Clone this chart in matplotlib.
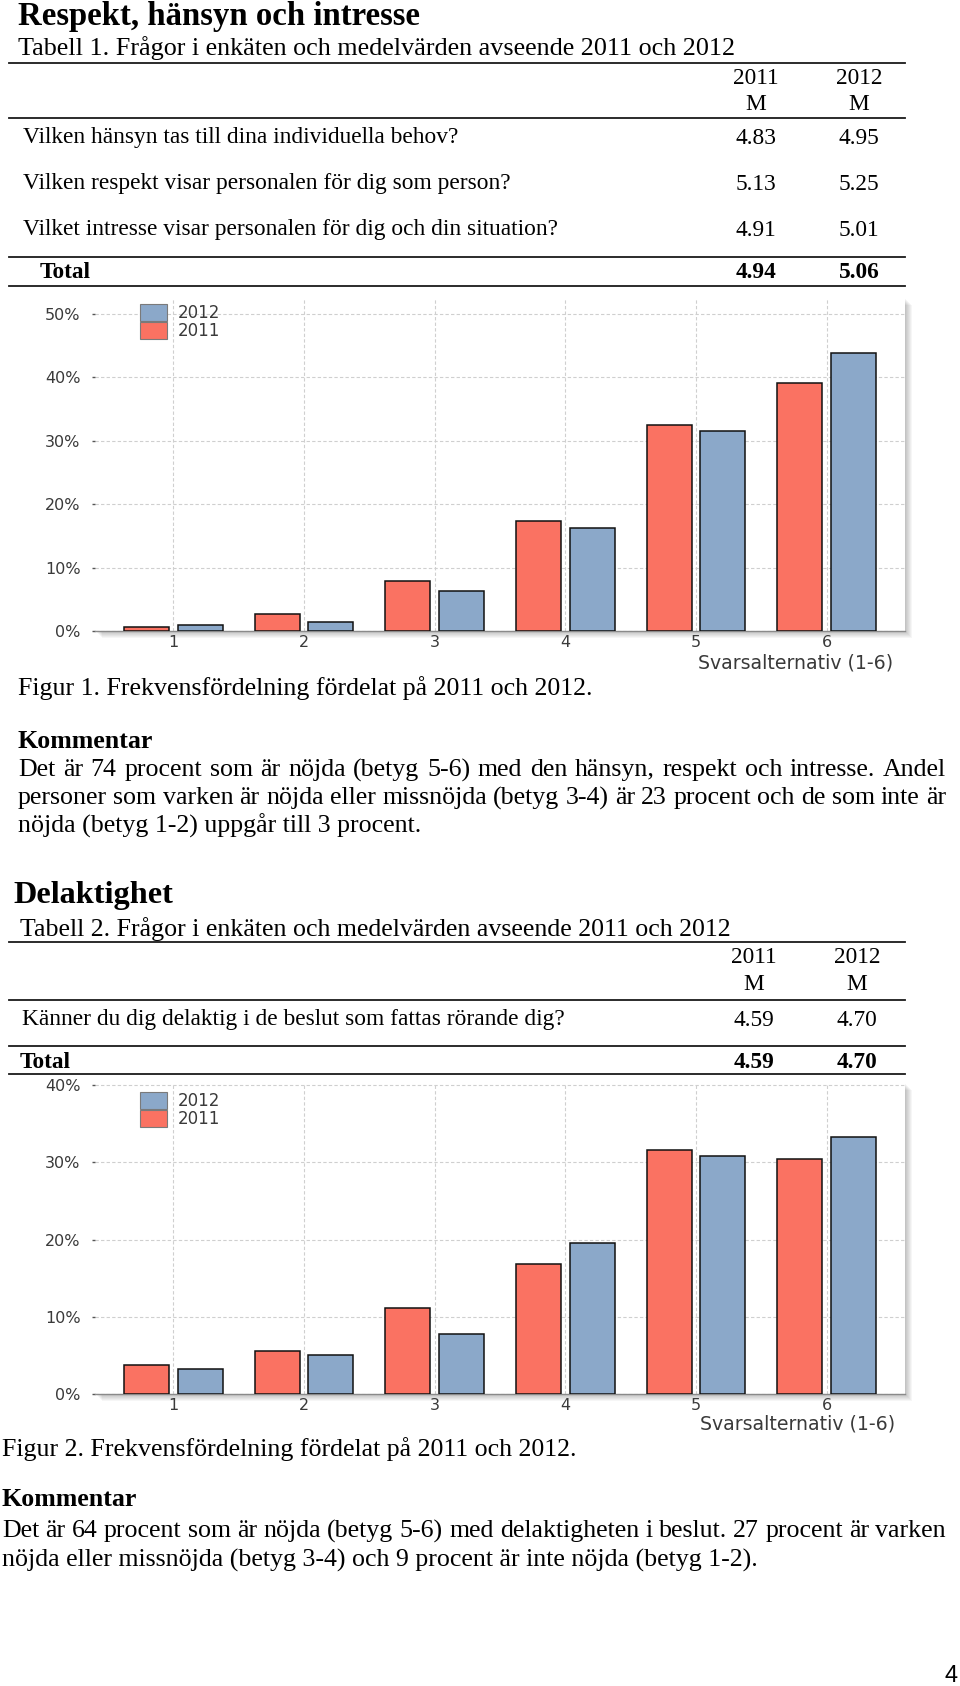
import matplotlib
matplotlib.use("Agg")
import matplotlib.pyplot as plt
import matplotlib.transforms as mtransforms
from matplotlib.patches import Patch, Rectangle
import numpy as np

# ---------------- data ----------------
categories = [1, 2, 3, 4, 5, 6]
fig1_2011 = [0.7, 2.7, 7.9, 17.4, 32.4, 39.1]
fig1_2012 = [1.0, 1.4, 6.3, 16.2, 31.5, 43.9]
fig2_2011 = [3.7, 5.6, 11.2, 16.9, 31.6, 30.5]
fig2_2012 = [3.2, 5.0, 7.8, 19.6, 30.9, 33.3]
fig1_yticks = [0, 10, 20, 30, 40, 50]
fig2_yticks = [0, 10, 20, 30, 40]
legend_labels = ["2012", "2011"]
xlabel_text = "Svarsalternativ (1-6)"

title1 = "Respekt, hänsyn och intresse"
table1_caption = "Tabell 1. Frågor i enkäten och medelvärden avseende 2011 och 2012"
table1_questions = ["Vilken hänsyn tas till dina individuella behov?",
                    "Vilken respekt visar personalen för dig som person?",
                    "Vilket intresse visar personalen för dig och din situation?"]
table1_m2011 = ["4.83", "5.13", "4.91"]
table1_m2012 = ["4.95", "5.25", "5.01"]
table1_total = ["4.94", "5.06"]
figure1_caption = "Figur 1. Frekvensfördelning fördelat på 2011 och 2012."
comment1_lines = ["Det är 74 procent som är nöjda (betyg 5-6) med den hänsyn, respekt och intresse. Andel",
                  "personer som varken är nöjda eller missnöjda (betyg 3-4) är 23 procent och de som inte är",
                  "nöjda (betyg 1-2) uppgår till 3 procent."]

title2 = "Delaktighet"
table2_caption = "Tabell 2. Frågor i enkäten och medelvärden avseende 2011 och 2012"
table2_questions = ["Känner du dig delaktig i de beslut som fattas rörande dig?"]
table2_m2011 = ["4.59"]
table2_m2012 = ["4.70"]
table2_total = ["4.59", "4.70"]
figure2_caption = "Figur 2. Frekvensfördelning fördelat på 2011 och 2012."
comment2_lines = ["Det är 64 procent som är nöjda (betyg 5-6) med delaktigheten i beslut. 27 procent är varken",
                  "nöjda eller missnöjda (betyg 3-4) och 9 procent är inte nöjda (betyg 1-2)."]
header_years = ["2011", "2012"]
page_number = "4"

# ---------------- style ----------------
W, H, DPI = 960, 1686, 100
RED = "#FA7262"
BLUE = "#8BA8C9"
SERIF = "Liberation Serif"
CHART_FONT = "DejaVu Sans"
CHART_TXT = "#3a3a3a"
TICK_SIZE = 11.5
LEG_SIZE = 12

fig = plt.figure(figsize=(W / DPI, H / DPI), dpi=DPI)
fig.patch.set_facecolor("white")
renderer = fig.canvas.get_renderer()


def put(x, y, s, size, ha="left", weight="normal", fit=None, family=SERIF, color="black"):
    t = fig.text(x / W, 1 - y / H, s, fontsize=size, ha=ha, va="center",
                 fontweight=weight, family=family, color=color)
    if fit:
        w = t.get_window_extent(renderer).width
        t.set_fontsize(size * fit / w)
    return t


def justify(x0, x1, y, s, size):
    words = s.split()
    ts = [fig.text(0, 1 - y / H, w, fontsize=size, va="center", family=SERIF) for w in words]
    widths = [t.get_window_extent(renderer).width for t in ts]
    gap = (x1 - x0 - sum(widths)) / (len(words) - 1)
    x = x0
    for t, w in zip(ts, widths):
        t.set_x(x / W)
        x += w + gap


def hline(y, x0=9, x1=905, lw=1.3):
    fig.add_artist(plt.Line2D([x0 / W, x1 / W], [1 - y / H, 1 - y / H],
                              color="#1a1a1a", lw=lw, transform=fig.transFigure))


def chart(left, top, right, bottom, v2011, v2012, yticks, ymax, leg_top):
    ax = fig.add_axes([left / W, 1 - bottom / H, (right - left) / W, (bottom - top) / H])
    ax.set_facecolor("white")
    x = np.array(categories, dtype=float)
    ax.bar(x - 0.205, v2011, 0.345, color=RED, edgecolor="#111111", lw=1.1, zorder=3)
    ax.bar(x + 0.205, v2012, 0.345, color=BLUE, edgecolor="#111111", lw=1.1, zorder=3)
    ax.set_xlim(0.4, 6.6)
    ax.set_ylim(0, ymax)
    ax.set_yticks(yticks)
    ax.set_yticklabels([f"{v}%" for v in yticks])
    ax.set_xticks(categories)
    ax.set_xticklabels([str(c) for c in categories])
    ax.grid(True, ls=(0, (3, 2)), color="#cfcfcf", lw=0.8, zorder=0)
    ax.set_axisbelow(True)
    for s in ["top", "right", "left"]:
        ax.spines[s].set_visible(False)
    ax.spines["bottom"].set_color("#8a8a8a")
    ax.spines["bottom"].set_linewidth(1.0)
    ax.tick_params(axis="x", length=0, pad=3, labelsize=TICK_SIZE, labelcolor=CHART_TXT)
    ax.tick_params(axis="y", length=2.5, width=1, color="#555555", pad=8,
                   labelsize=TICK_SIZE, labelcolor=CHART_TXT)
    for lab in ax.get_xticklabels() + ax.get_yticklabels():
        lab.set_family(CHART_FONT)
    # drop shadow
    for k in range(1, 8):
        tr = ax.transAxes + mtransforms.ScaledTranslation(k / DPI, -k / DPI, fig.dpi_scale_trans)
        fig.add_artist(Rectangle((0, 0), 1, 1, transform=tr, facecolor="black",
                                 alpha=0.035, lw=0, zorder=-1))
    handles = [Patch(facecolor=BLUE, edgecolor="#7a7a7a", lw=0.8),
               Patch(facecolor=RED, edgecolor="#7a7a7a", lw=0.8)]
    ly = (bottom - leg_top) / (bottom - top)
    lx = (140 - left) / (right - left)
    leg = ax.legend(handles, legend_labels, loc="upper left", bbox_to_anchor=(lx, ly),
                    frameon=False, borderpad=0, borderaxespad=0, handlelength=1.62,
                    handleheight=1.2, labelspacing=0, handletextpad=0.66,
                    prop=dict(size=LEG_SIZE, family=CHART_FONT))
    for t in leg.get_texts():
        t.set_color(CHART_TXT)
    return ax


# ---------------- section 1 ----------------
put(18, 16, title1, 22, weight="bold", fit=402)
put(18, 48, table1_caption, 17, fit=717)
hline(63)
t = put(23, 138, table1_questions[0], 16, fit=436)
s1 = t.get_fontsize()
for yy, txt in zip([78, 105], [header_years, ["M", "M"]]):
    put(756, yy, txt[0], s1, ha="center")
    put(859, yy, txt[1], s1, ha="center")
hline(118)
for i, (q, a, b) in enumerate(zip(table1_questions, table1_m2011, table1_m2012)):
    yy = [138, 184, 230][i]
    if i > 0:
        put(23, yy, q, s1)
    put(756, yy, a, s1, ha="center")
    put(859, yy, b, s1, ha="center")
hline(257)
put(40, 273, "Total", s1, weight="bold")
put(756, 273, table1_total[0], s1, ha="center", weight="bold")
put(859, 273, table1_total[1], s1, ha="center", weight="bold")
hline(286)

chart(95, 298, 905, 631, fig1_2011, fig1_2012, fig1_yticks, 52.5, 304)
put(893, 663, xlabel_text, 12, ha="right", family=CHART_FONT, color=CHART_TXT, fit=194)

tc = put(18, 688, figure1_caption, 17, fit=576)
sc = tc.get_fontsize()
put(18, 742, "Kommentar", sc, weight="bold")
justify(18, 946, 770, comment1_lines[0], sc)
justify(18, 946, 798, comment1_lines[1], sc)
put(18, 826, comment1_lines[2], sc)

# ---------------- section 2 ----------------
put(13, 895, title2, 22, weight="bold", fit=160)
put(20, 929, table2_caption, sc)
hline(942)
t2 = put(22, 1020, table2_questions[0], 16, fit=541)
s2 = t2.get_fontsize()
put(754, 958, header_years[0], s2, ha="center")
put(857, 958, header_years[1], s2, ha="center")
put(754, 985, "M", s2, ha="center")
put(857, 985, "M", s2, ha="center")
hline(1000)
put(754, 1020, table2_m2011[0], s2, ha="center")
put(857, 1020, table2_m2012[0], s2, ha="center")
hline(1046)
put(20, 1062, "Total", s2, weight="bold")
put(754, 1062, table2_total[0], s2, ha="center", weight="bold")
put(857, 1062, table2_total[1], s2, ha="center", weight="bold")
hline(1074)

chart(95, 1083, 905, 1394, fig2_2011, fig2_2012, fig2_yticks, 40.3, 1092)
put(895, 1424, xlabel_text, 12, ha="right", family=CHART_FONT, color=CHART_TXT, fit=194)

put(2, 1449, figure2_caption, sc)
put(2, 1500, "Kommentar", sc, weight="bold")
justify(2, 946, 1531, comment2_lines[0], sc)
put(2, 1560, comment2_lines[1], sc)

put(951, 1676, page_number, 17, ha="center", family="Liberation Sans")

fig.savefig("out.png", dpi=DPI, facecolor="white")
